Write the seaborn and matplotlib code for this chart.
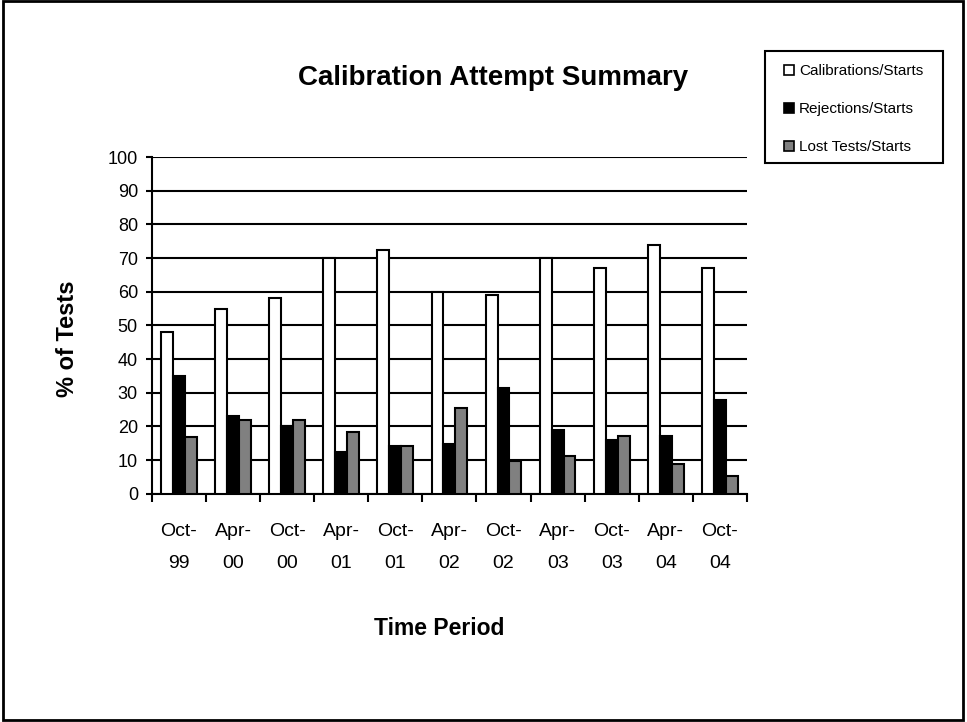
import matplotlib
matplotlib.use("Agg")
import matplotlib.pyplot as plt
import seaborn as sns
import pandas as pd
from matplotlib.patches import Rectangle
from matplotlib.legend_handler import HandlerPatch

periods = ["Oct-\n99", "Apr-\n00", "Oct-\n00", "Apr-\n01", "Oct-\n01", "Apr-\n02",
           "Oct-\n02", "Apr-\n03", "Oct-\n03", "Apr-\n04", "Oct-\n04"]
series_names = ["Calibrations/Starts", "Rejections/Starts", "Lost Tests/Starts"]
calibrations = [48, 55, 58, 70, 72.3, 60, 59, 70, 67, 74, 67]
rejections = [35, 23, 20, 12.5, 14.2, 14.8, 31.4, 19, 16, 17.3, 27.8]
lost_tests = [17, 22, 22, 18.3, 14.1, 25.4, 9.8, 11.2, 17.1, 8.9, 5.2]
y_ticks = list(range(0, 101, 10))

rows = []
for name, vals in zip(series_names, [calibrations, rejections, lost_tests]):
    for p, v in zip(periods, vals):
        rows.append({"period": p, "series": name, "value": v})
df = pd.DataFrame(rows)

sns.set_theme(style="white")
plt.rcParams['font.family'] = ['Liberation Sans', 'DejaVu Sans']
plt.rcParams['text.color'] = 'black'
plt.rcParams['axes.labelcolor'] = 'black'
plt.rcParams['xtick.color'] = 'black'
plt.rcParams['ytick.color'] = 'black'

fig = plt.figure(figsize=(9.67, 7.22), dpi=100)
ax = fig.add_axes([0.157, 0.316, 0.6155, 0.4665])

sns.barplot(data=df, x="period", y="value", hue="series", order=periods,
            hue_order=series_names, palette=["white", "black", "#808080"],
            edgecolor="black", linewidth=1.5, width=0.66, ax=ax, legend=False,
            zorder=3)

ax.set_ylim(0, 100)
ax.set_xlim(-0.5, len(periods) - 0.5)
ax.set_yticks(y_ticks)
ax.yaxis.grid(True, color="black", linewidth=1.5, zorder=0)
ax.set_axisbelow(True)
for s in ["top", "right"]:
    ax.spines[s].set_visible(False)
for s in ["left", "bottom"]:
    ax.spines[s].set_color("black")
    ax.spines[s].set_linewidth(1.5)

ax.set_xticks(range(len(periods)))
ax.set_xticklabels(periods, fontsize=14, linespacing=2.18)
ax.set_xticks([i - 0.5 for i in range(len(periods) + 1)], minor=True)
ax.tick_params(axis="x", which="major", length=0, pad=21, colors="black")
ax.tick_params(axis="x", which="minor", length=6, width=1.5, direction="out", color="black", bottom=True)
ax.tick_params(axis="y", which="major", length=4, width=1.5, direction="out", labelsize=13,
               colors="black", left=True, pad=6)

ax.set_xlabel("Time Period", fontsize=16.5, fontweight="bold")
ax.xaxis.set_label_coords(0.483, -0.365)
ax.set_ylabel("% of Tests", fontsize=17, fontweight="bold")
ax.yaxis.set_label_coords(-0.123, 0.46)

fig.text(0.51, 0.892, "Calibration Attempt Summary", ha="center", va="center",
         fontsize=20, fontweight="bold")


def square_patch(legend, orig_handle, xdescent, ydescent, width, height, fontsize):
    side = 10.0 * 72.0 / fig.dpi
    return Rectangle((width - side - xdescent, (height - side) / 2.0 - ydescent), side, side)


handles = [Rectangle((0, 0), 1, 1, facecolor=c, edgecolor="black", linewidth=1.2)
           for c in ["white", "black", "#808080"]]
leg = fig.legend(handles, series_names, loc="upper left",
                 bbox_to_anchor=(784 / 967, 1 - 64 / 722), frameon=False,
                 fontsize=11, handlelength=0.66, handleheight=0.7,
                 handletextpad=0.33, labelspacing=1.58, borderpad=0, borderaxespad=0,
                 handler_map={Rectangle: HandlerPatch(patch_func=square_patch)})

# legend frame
fig.patches.append(Rectangle((765 / 967, 1 - 163 / 722), (943 - 765) / 967, (163 - 51) / 722,
                             transform=fig.transFigure, fill=False, edgecolor="black",
                             linewidth=1.5))
# outer chart border
fig.patches.append(Rectangle((0.0036, 0.003), 0.9924, 0.9955, transform=fig.transFigure,
                             fill=False, edgecolor="black", linewidth=2))

fig.savefig("out.png", dpi=100)
